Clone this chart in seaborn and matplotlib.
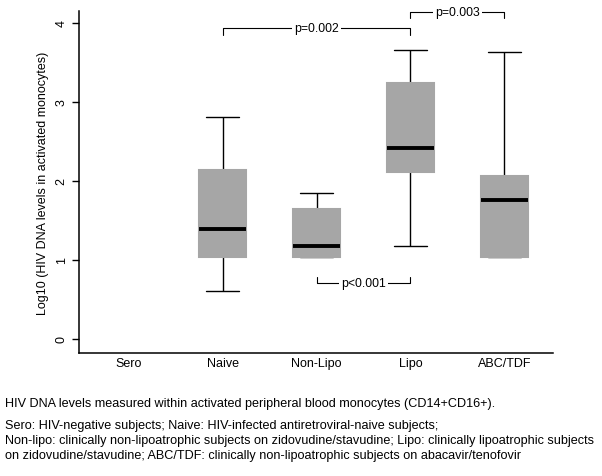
import numpy as np
import pandas as pd
import seaborn as sns
import matplotlib.pyplot as plt

# Groups and the five-number summaries
groups = ['Sero', 'Naive', 'Non-Lipo', 'Lipo', 'ABC/TDF']
naive = [0.61, 1.03, 1.39, 2.14, 2.81]
non_lipo = [1.03, 1.03, 1.17, 1.64, 1.85]
lipo = [1.18, 2.11, 2.42, 3.24, 3.66]
abc_tdf = [1.03, 1.03, 1.75, 2.06, 3.63]

caption = ("HIV DNA levels measured within activated peripheral blood monocytes (CD14+CD16+).")
legend_text = ("Sero: HIV-negative subjects; Naive: HIV-infected antiretroviral-naive subjects;\n"
               "Non-lipo: clinically non-lipoatrophic subjects on zidovudine/stavudine; Lipo: clinically lipoatrophic subjects\n"
               "on zidovudine/stavudine; ABC/TDF: clinically non-lipoatrophic subjects on abacavir/tenofovir")

df = pd.DataFrame({
    'group': ['Naive'] * 5 + ['Non-Lipo'] * 5 + ['Lipo'] * 5 + ['ABC/TDF'] * 5,
    'value': naive + non_lipo + lipo + abc_tdf,
})

sns.set_style('white')
plt.rcParams['font.family'] = ['Liberation Sans', 'DejaVu Sans']
plt.rcParams['text.color'] = 'black'
plt.rcParams['axes.labelcolor'] = 'black'
plt.rcParams['xtick.color'] = 'black'
plt.rcParams['ytick.color'] = 'black'

fig = plt.figure(figsize=(6.02, 4.77), dpi=100)
ax = fig.add_axes([0.131, 0.258, 0.788, 0.717])

box_grey = '#a6a6a6'
sns.boxplot(data=df, x='group', y='value', order=groups, color=box_grey,
            saturation=1, width=0.5, whis=np.inf, linewidth=1, linecolor='black',
            capwidths=0.35,
            boxprops=dict(edgecolor=box_grey, linewidth=1.5, zorder=3),
            whiskerprops=dict(zorder=1.5),
            capprops=dict(zorder=1.5),
            medianprops=dict(color='black', linewidth=2.8, zorder=4),
            ax=ax)

ax.set_xlim(-0.53, 4.52)
ax.set_ylim(-0.18, 4.15)
ax.set_yticks([0, 1, 2, 3, 4])
ax.set_xlabel('')
ax.set_ylabel('Log10 (HIV DNA levels in activated monocytes)', fontsize=9, labelpad=5)

for lab in ax.get_yticklabels():
    lab.set_rotation(90)
    lab.set_va('center')
ax.tick_params(axis='y', left=True, length=5, width=1, pad=3, labelsize=9)
ax.tick_params(axis='x', bottom=False, length=0, pad=3, labelsize=9)

sns.despine(ax=ax)
for s in ['left', 'bottom']:
    ax.spines[s].set_linewidth(1.1)
    ax.spines[s].set_color('black')

pos = {g: i for i, g in enumerate(groups)}


def bracket(a, b, y, tip, label):
    xa, xb = pos[a], pos[b]
    ax.plot([xa, xa, xb, xb], [y + tip, y, y, y + tip], color='black', lw=0.8,
            clip_on=False)
    ax.text((xa + xb) / 2, y, label, ha='center', va='center', fontsize=8.8,
            bbox=dict(facecolor='white', edgecolor='none', pad=1.5), clip_on=False)


bracket('Naive', 'Lipo', 3.94, -0.09, 'p=0.002')
bracket('Lipo', 'ABC/TDF', 4.14, -0.08, 'p=0.003')
bracket('Non-Lipo', 'Lipo', 0.71, 0.07, 'p<0.001')

fig.text(0.008, 1 - 404 / 477, caption, fontsize=9.1, va='center')
fig.text(0.008, 1 - 441 / 477, legend_text, fontsize=9.1, va='center', linespacing=1.28)

fig.savefig('out.png', dpi=100)
